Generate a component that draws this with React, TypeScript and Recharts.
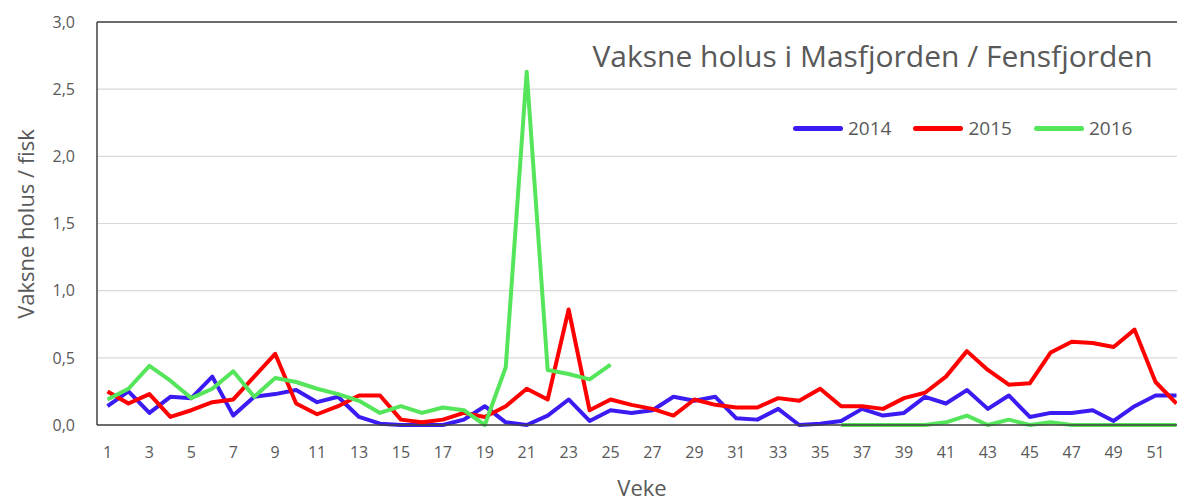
import React from 'react';
import { LineChart, Line, XAxis, YAxis, CartesianGrid, Legend, ReferenceLine } from 'recharts';

// veke 1-52
const weeks = Array.from({ length: 52 }, (_, i) => String(i + 1));

const y2014 = [
  0.14, 0.25, 0.09, 0.21, 0.2, 0.36, 0.07, 0.21, 0.23, 0.26,
  0.17, 0.21, 0.06, 0.01, 0.0, 0.0, 0.0, 0.04, 0.14, 0.02,
  0.0, 0.07, 0.19, 0.03, 0.11, 0.09, 0.11, 0.21, 0.18, 0.21,
  0.05, 0.04, 0.12, 0.0, 0.01, 0.03, 0.12, 0.07, 0.09, 0.21,
  0.16, 0.26, 0.12, 0.22, 0.06, 0.09, 0.09, 0.11, 0.03, 0.14, 0.22, 0.22,
];

const y2015 = [
  0.25, 0.16, 0.23, 0.06, 0.11, 0.17, 0.19, 0.36, 0.53, 0.16,
  0.08, 0.14, 0.22, 0.22, 0.04, 0.02, 0.04, 0.09, 0.06, 0.14,
  0.27, 0.19, 0.86, 0.11, 0.19, 0.15, 0.12, 0.07, 0.19, 0.15,
  0.13, 0.13, 0.2, 0.18, 0.27, 0.14, 0.14, 0.12, 0.2, 0.24,
  0.36, 0.55, 0.41, 0.3, 0.31, 0.54, 0.62, 0.61, 0.58, 0.71, 0.32, 0.16,
];

const y2016: (number | null)[] = [
  0.19, 0.27, 0.44, 0.33, 0.2, 0.27, 0.4, 0.21, 0.35, 0.32,
  0.27, 0.23, 0.18, 0.09, 0.14, 0.09, 0.13, 0.11, 0.0, 0.43,
  2.63, 0.41, 0.38, 0.34, 0.45, null, null, null, null, null,
  null, null, null, null, null, 0.0, 0.0, 0.0, 0.0, 0.0,
  0.02, 0.07, 0.0, 0.04, 0.0, 0.02, 0.0, 0.0, 0.0, 0.0, 0.0, 0.0,
];

const yTicks = [0, 0.5, 1, 1.5, 2, 2.5, 3];

const series = [
  { key: 'y2014', name: '2014', color: '#3a1cf2' },
  { key: 'y2015', name: '2015', color: '#ff0000' },
  { key: 'y2016', name: '2016', color: '#55e55a' },
];

const chartData = weeks.map((w, i) => ({
  week: w,
  y2014: y2014[i],
  y2015: y2015[i],
  y2016: y2016[i],
}));

const FONT = '"Open Sans", sans-serif';
const GREY = '#595959';

const renderLegend = () => (
  <div style={{ display: 'flex', alignItems: 'center', fontFamily: FONT, fontSize: 19, color: GREY }}>
    {series.map((s) => (
      <div key={s.key} style={{ display: 'flex', alignItems: 'center', marginRight: 22 }}>
        <div style={{ width: 50, height: 5, borderRadius: 3, background: s.color, marginRight: 5 }} />
        <span>{s.name}</span>
      </div>
    ))}
  </div>
);

const App: React.FC = () => {
  return (
    <div style={{ position: 'fixed', left: 0, top: 0, width: 1177, height: 504, overflow: 'hidden', background: '#fff' }}>
      <LineChart
        width={1190}
        height={504}
        data={chartData}
        margin={{ top: 22, right: 3, left: 0, bottom: 49 }}
      >
        <CartesianGrid vertical={false} stroke="#d9d9d9" strokeWidth={1.2} />
        <XAxis
          dataKey="week"
          interval={1}
          height={30}
          padding={{ left: 10.5, right: 10.5 }}
          tickLine={false}
          tickSize={0}
          tickMargin={22}
          axisLine={{ stroke: '#404040', strokeWidth: 1.5 }}
          tick={{ fill: GREY, fontSize: 16, fontFamily: FONT }}
          label={{ value: 'Veke', position: 'bottom', offset: 25, fill: GREY, fontSize: 22, fontFamily: FONT }}
        />
        <YAxis
          width={97}
          domain={[0, 3]}
          ticks={yTicks}
          tickLine={false}
          tickSize={0}
          tickMargin={22}
          axisLine={{ stroke: '#404040', strokeWidth: 1.5 }}
          tick={{ fill: GREY, fontSize: 16, fontFamily: FONT }}
          tickFormatter={(v: number) => v.toFixed(1).replace('.', ',')}
          label={{
            content: () => (
              <text
                x={0}
                y={0}
                transform="translate(34 224) rotate(-90)"
                textAnchor="middle"
                fill={GREY}
                fontSize={22}
                fontFamily={FONT}
              >
                Vaksne holus / fisk
              </text>
            ),
          }}
        />
        <ReferenceLine y={3} stroke="#404040" strokeWidth={1.5} />
        <Legend
          verticalAlign="middle"
          align="center"
          layout="horizontal"
          content={renderLegend}
          wrapperStyle={{ position: 'absolute', left: 793, top: 115, width: 380 }}
        />
        {series.map((s) => (
          <Line
            key={s.key}
            type="linear"
            dataKey={s.key}
            name={s.name}
            stroke={s.color}
            strokeWidth={4}
            strokeLinejoin="round"
            dot={false}
            activeDot={false}
            isAnimationActive={false}
          />
        ))}
      </LineChart>
      <div
        style={{
          position: 'absolute',
          left: 580,
          top: 36,
          width: 585,
          textAlign: 'center',
          fontFamily: FONT,
          fontSize: 30,
          lineHeight: '40px',
          color: GREY,
          whiteSpace: 'nowrap',
        }}
      >
        Vaksne holus i Masfjorden / Fensfjorden
      </div>
    </div>
  );
};

export default App;
